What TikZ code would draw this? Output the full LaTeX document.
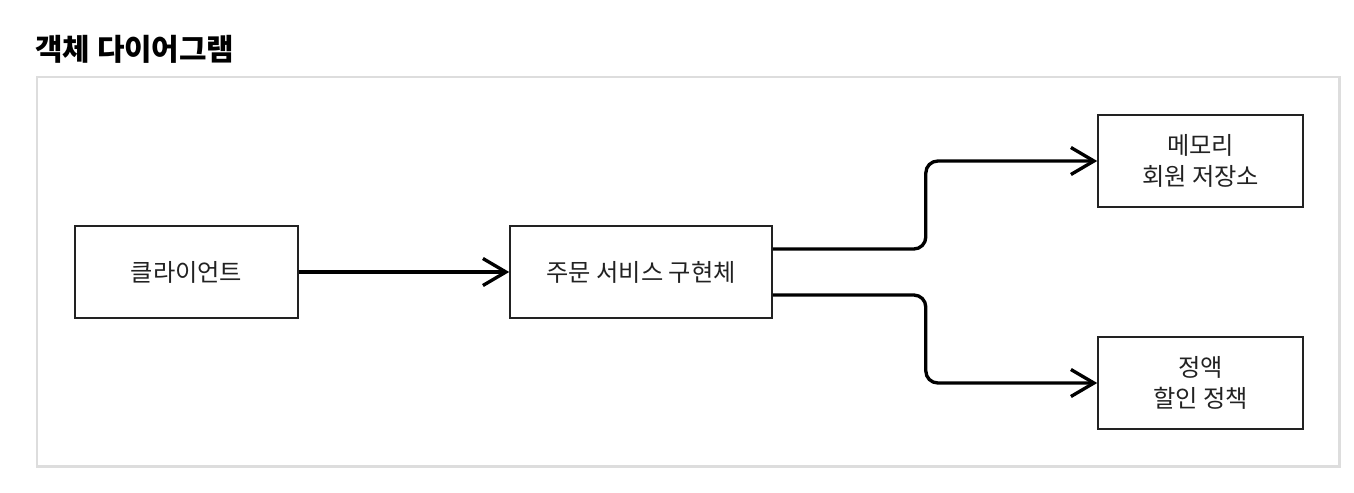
\documentclass[tikz,border=0pt]{standalone}
\usepackage{fontspec}
\setmainfont{Noto Sans CJK KR}
\usepackage{xcolor}
\usepackage{tikz}
\usetikzlibrary{arrows.meta, positioning}
\definecolor{framegray}{HTML}{DDDDDD}
\definecolor{inkdark}{HTML}{222222}
\tikzset{
  objbox/.style={rectangle,draw=inkdark,line width=0.9pt,minimum width=4.46cm,minimum height=1.84cm,
    inner sep=2pt,align=center,text=inkdark,font=\fontsize{13.8}{17.6}\selectfont},
  wideobj/.style={objbox,minimum width=5.24cm},
  storebox/.style={objbox,minimum width=4.1cm},
  flowedge/.style={-{Straight Barb[length=4.6mm,width=5.4mm]},line width=1.9pt,black},
  elbow/.style={flowedge,rounded corners=0.24cm},
}

\begin{document}
\begin{tikzpicture}
  \useasboundingbox (0,0) rectangle (27.08,-9.84);
  \node[anchor=base west,font=\fontsize{17}{20}\selectfont\bfseries] (nTitle) at (0.58,-1.2) {객체 다이어그램};
  \draw[framegray,line width=1.7pt] (0.74,-1.54) rectangle (26.78,-9.32);
  \node[objbox] (nClient) at (3.73,-5.44) {클라이언트};
  \node[wideobj] (nSvc) at (12.82,-5.44) {주문 서비스 구현체};
  \node[storebox] (nMem) at (24.01,-3.22) {메모리\\회원 저장소};
  \node[storebox] (nDisc) at (24.01,-7.66) {정액\\할인 정책};
  \draw[flowedge] (nClient) -- (nSvc);
  \draw[elbow] ([yshift=0.46cm]nSvc.east) -- ++(3.06,0) |- (nMem.west);
  \draw[elbow] ([yshift=-0.46cm]nSvc.east) -- ++(3.06,0) |- (nDisc.west);
\end{tikzpicture}
\end{document}
